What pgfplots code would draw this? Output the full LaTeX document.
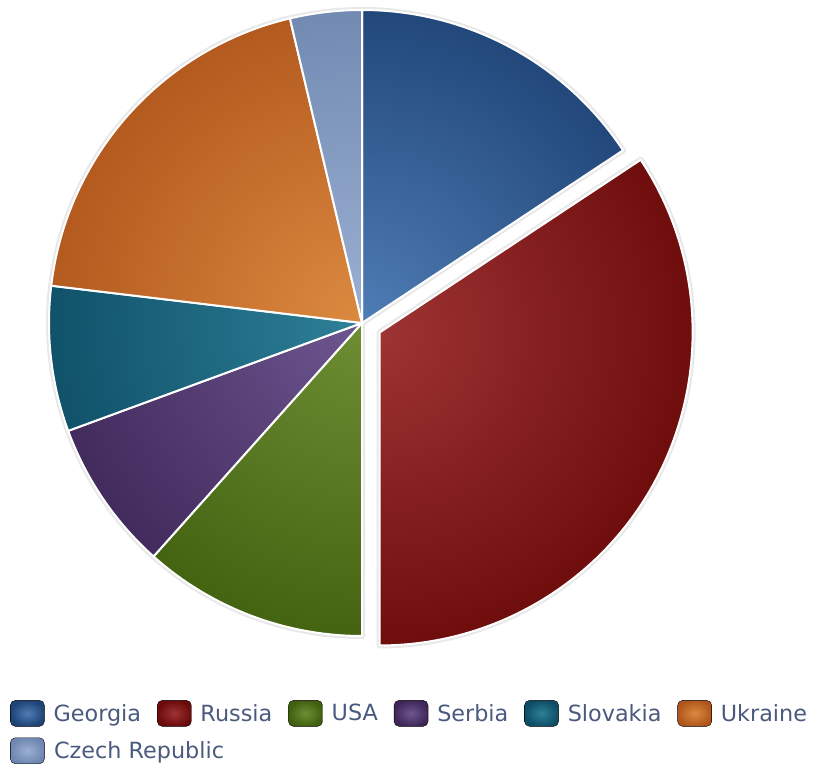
\documentclass[border=0pt]{standalone}
\usepackage{fontspec}
\setmainfont{DejaVu Sans}
\usepackage{pgfplots}
\usepackage{pgfplotstable}
\pgfplotsset{compat=1.18}

\definecolor{geoI}{HTML}{4F7DB5}\definecolor{geoO}{HTML}{1E4376}
\definecolor{rusI}{HTML}{9E3434}\definecolor{rusO}{HTML}{6B0A0A}
\definecolor{usaI}{HTML}{6E8E34}\definecolor{usaO}{HTML}{41600F}
\definecolor{serI}{HTML}{6E5690}\definecolor{serO}{HTML}{3E2758}
\definecolor{sloI}{HTML}{2E8098}\definecolor{sloO}{HTML}{0D4E66}
\definecolor{ukrI}{HTML}{DC8A40}\definecolor{ukrO}{HTML}{B0561C}
\definecolor{czeI}{HTML}{9BB0D2}\definecolor{czeO}{HTML}{6F87B0}
\definecolor{legtext}{HTML}{4A5A7E}

% share of each country, percent (clockwise from 12 o'clock)
\pgfplotstableread{
name     key value
Georgia  geo 15.7
Russia   rus 34.3
USA      usa 11.6
Serbia   ser 7.8
Slovakia slo 7.5
Ukraine  ukr 19.4
Czech    cze 3.7
}\piedata

\newcommand{\legimg}[1]{\addlegendimage{legend image code/.code={%
  \shade[rounded corners=5bp, inner color=#1I, outer color=#1O] (0bp,-13bp) rectangle (34bp,13bp);}}}

% build the slice paths from the table
\gdef\pieshadows{}
\gdef\piefills{}
\gdef\piecum{0}
\foreach \n in {0,...,6}{%
  \pgfplotstablegetelem{\n}{value}\of\piedata \global\let\pieval\pgfplotsretval
  \pgfplotstablegetelem{\n}{key}\of\piedata \global\let\piekey\pgfplotsretval
  \pgfmathsetmacro\pieA{90-3.6*\piecum}
  \pgfmathsetmacro\pieB{90-3.6*(\piecum+\pieval)}
  \pgfmathsetmacro\pieM{(\pieA+\pieB)/2}
  \ifnum\n=1 \def\pieOff{20}\else\def\pieOff{0}\fi
  \pgfmathsetmacro\pieCX{\pieOff*cos(\pieM)}
  \pgfmathsetmacro\pieCY{\pieOff*sin(\pieM)}
  \pgfmathsetmacro\piePX{\pieCX+313*cos(\pieA)}
  \pgfmathsetmacro\piePY{\pieCY+313*sin(\pieA)}
  \xdef\pieshadows{\unexpanded\expandafter{\pieshadows}%
    \noexpand\draw[black!9, line width=6bp, line join=round]
      (axis cs:\pieCX,\pieCY) -- (axis cs:\piePX,\piePY) arc[start angle=\pieA, end angle=\pieB, radius=313bp] -- cycle;}
  \xdef\piefills{\unexpanded\expandafter{\piefills}%
    \noexpand\begin{scope}
    \noexpand\clip (axis cs:\pieCX,\pieCY) -- (axis cs:\piePX,\piePY) arc[start angle=\pieA, end angle=\pieB, radius=313bp] -- cycle;
    \noexpand\shade[inner color=\piekey I, outer color=\piekey O] (axis cs:\pieCX,\pieCY) circle[radius=340bp];
    \noexpand\end{scope}
    \noexpand\draw[white, line width=2bp, line join=round]
      (axis cs:\pieCX,\pieCY) -- (axis cs:\piePX,\piePY) arc[start angle=\pieA, end angle=\pieB, radius=313bp] -- cycle;}
  \pgfmathsetmacro\piecumnew{\piecum+\pieval}
  \global\let\piecum\piecumnew
}

\begin{document}
\begin{tikzpicture}
\begin{axis}[
  name=ax,
  x=1bp, y=1bp,
  xmin=-362, xmax=457, ymin=-442, ymax=323,
  hide axis, clip=false,
  legend columns=6,
  legend cell align=left,
  legend style={draw=none, fill=none, at={(0.0122,0.085)}, anchor=north west,
    font=\fontsize{22.4}{27}\selectfont, text=legtext,
    row sep=11bp, inner sep=0pt, nodes={inner sep=0pt},
    /tikz/every odd column/.append style={column sep=9bp},
    /tikz/every even column/.append style={column sep=16bp}},
]
\pieshadows
\piefills

\legimg{geo}\legimg{rus}\legimg{usa}\legimg{ser}\legimg{slo}\legimg{ukr}\legimg{cze}
\legend{Georgia,Russia,USA,Serbia,Slovakia,Ukraine,\makebox[0pt][l]{Czech Republic}}
\end{axis}
\pgfresetboundingbox
\path (ax.south west) rectangle (ax.north east);
\end{tikzpicture}
\end{document}
